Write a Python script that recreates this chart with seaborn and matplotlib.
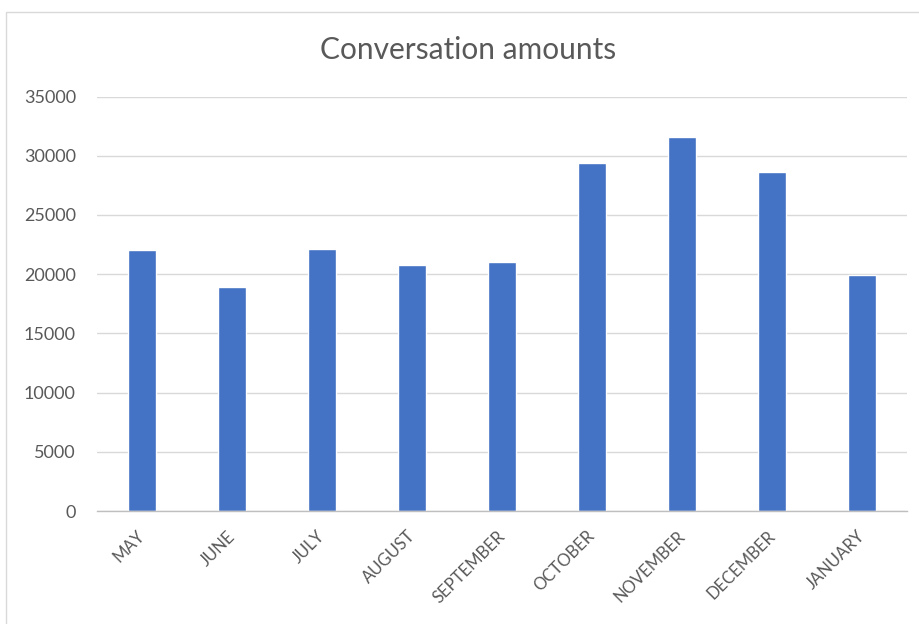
import matplotlib
matplotlib.use("Agg")
import matplotlib.pyplot as plt
import matplotlib.transforms as mtransforms
from matplotlib.patches import Rectangle
import seaborn as sns
import pandas as pd

months = ["MAY", "JUNE", "JULY", "AUGUST", "SEPTEMBER",
          "OCTOBER", "NOVEMBER", "DECEMBER", "JANUARY"]
conversations = [22000, 18900, 22100, 20800, 21000, 29400, 31600, 28600, 19900]
y_ticks = [0, 5000, 10000, 15000, 20000, 25000, 30000, 35000]

sns.set_theme(style="white")
plt.rcParams["font.family"] = ["Lato", "DejaVu Sans"]

W, H = 919, 624
fig = plt.figure(figsize=(W / 100, H / 100), dpi=100)
fig.patch.set_facecolor("white")

# light chart-area frame
fig.patches.append(Rectangle((6 / W, -0.05), 1.2, 1 - 12 / H + 0.05,
                             transform=fig.transFigure, fill=False,
                             edgecolor="#d9d9d9", linewidth=1.0))

ax = fig.add_axes([96.7 / W, 1 - 511 / H, (906.7 - 96.7) / W, (511 - 96.5) / H])

df = pd.DataFrame({"month": months, "count": conversations})
sns.barplot(data=df, x="month", y="count", color="#4472C4", width=0.31,
            saturation=1, ax=ax, zorder=3)

ax.set_ylim(0, 35000)
ax.set_yticks(y_ticks)
ax.set_yticklabels([str(v) for v in y_ticks])
ax.set_xlim(-0.5, len(months) - 0.5)
ax.set_xlabel("")
ax.set_ylabel("")

ax.grid(axis="y", color="#d9d9d9", linewidth=1.0, zorder=0)
ax.grid(axis="x", visible=False)
for side in ["top", "right", "left"]:
    ax.spines[side].set_visible(False)
ax.spines["bottom"].set_color("#bfbfbf")
ax.spines["bottom"].set_linewidth(1.0)
ax.spines["bottom"].set_zorder(4)

ax.tick_params(axis="both", length=0, colors="#595959")
ax.tick_params(axis="y", pad=15, labelsize=13)
ax.tick_params(axis="x", pad=0, labelsize=12)

offset = mtransforms.ScaledTranslation(-5 / 100, -17 / 100, fig.dpi_scale_trans)
for lbl in ax.get_xticklabels():
    lbl.set_rotation(45)
    lbl.set_ha("right")
    lbl.set_va("top")
    lbl.set_rotation_mode("anchor")
    lbl.set_transform(lbl.get_transform() + offset)

fig.text(468 / W, 1 - 50 / H, "Conversation amounts", ha="center", va="center",
         fontsize=21.5, color="#595959")

fig.savefig("out.png", dpi=100, facecolor="white")
